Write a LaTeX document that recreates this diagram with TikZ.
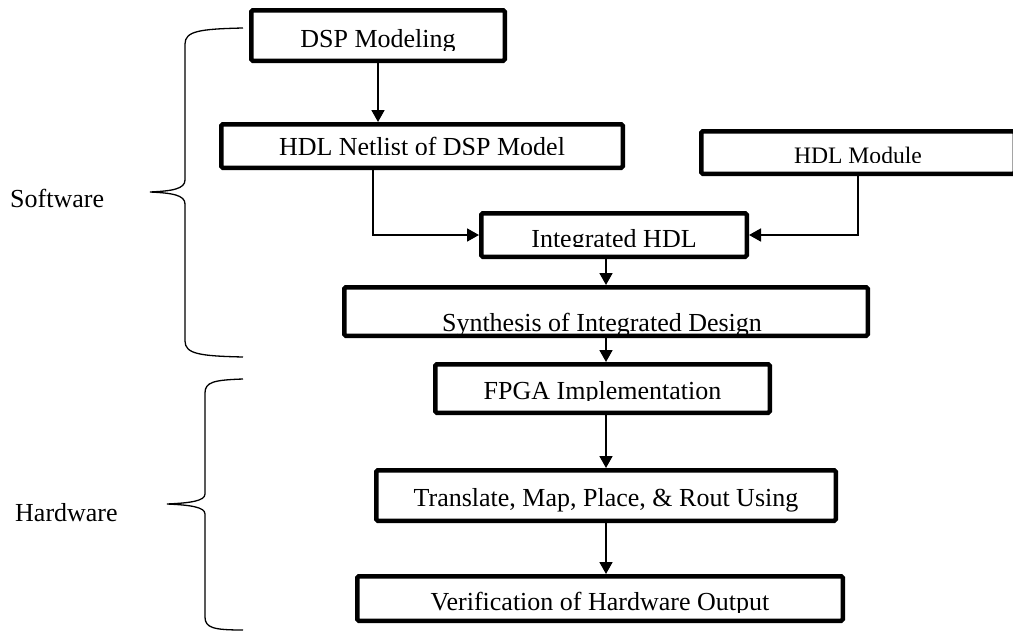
\documentclass[tikz,border=0pt]{standalone}
\usepackage{fontspec}
\setmainfont{Liberation Serif}
\usetikzlibrary{arrows.meta}

% text of a box, cut off below the given line
\newcommand{\cliplabel}[5]{%
  \begin{scope}
    \clip (#1.north west) rectangle (#1.east |- 0,#4);
    \node[lbl, anchor=base] (#1-txt) at (#2,#3) {#5};
  \end{scope}}

\begin{document}
\begin{tikzpicture}[
  x=1pt, y=-1pt,
  font=\fontsize{26}{30}\selectfont,
  blk/.style={draw, line width=4.5pt, rounded corners=1.5pt, inner sep=0pt},
  lbl/.style={inner sep=0pt},
  arr/.style={-{Triangle[length=12pt,width=13pt]}, line width=1.8pt},
  brace/.style={line width=1.3pt}
]
\useasboundingbox (0,0) rectangle (1013,632);

% software part
\node[blk, minimum width=253.5pt, minimum height=50.5pt] (dsp) at (378,35.5) {};
\node[blk, minimum width=401.5pt, minimum height=43.5pt] (net) at (422,146) {};
\node[blk, minimum width=313.5pt, minimum height=42.5pt] (mod) at (858,152.5) {};
\node[blk, minimum width=265.5pt, minimum height=43.5pt] (intg) at (614,235) {};
\node[blk, minimum width=523.5pt, minimum height=48.5pt] (syn) at (606,311.5) {};
% hardware part
\node[blk, minimum width=334.5pt, minimum height=48.5pt] (fpga) at (602.5,388.5) {};
\node[blk, minimum width=459.5pt, minimum height=50.5pt] (trans) at (606,495.5) {};
\node[blk, minimum width=485.5pt, minimum height=44.5pt] (ver) at (600,598.5) {};

\cliplabel{dsp}{378}{47}{50}{DSP Modeling}
\cliplabel{net}{422}{155.5}{154.5}{HDL Netlist of DSP Model}
\cliplabel{mod}{858}{163}{162}{\fontsize{23.6}{27}\selectfont HDL Module}
\cliplabel{intg}{614}{247}{246}{Integrated HDL}
\cliplabel{syn}{602}{331}{333}{Synthesis of Integrated Design}
\cliplabel{fpga}{602.5}{399}{400.5}{FPGA Implementation}
\cliplabel{trans}{606}{506}{523}{Translate, Map, Place, \& Rout Using}
\cliplabel{ver}{600}{610}{612}{Verification of Hardware Output}

\draw[arr] (dsp.south) -- (dsp.south |- net.north);
\draw[arr] ([xshift=-49pt]net.south) |- (intg.west);
\draw[arr] (mod.south) |- (intg.east);
\draw[arr] (intg.south -| syn.north) -- (syn.north);
\draw[arr] (syn.south) -- (syn.south |- fpga.north);
\draw[arr] (fpga.south -| trans.north) -- (trans.north);
\draw[arr] (trans.south) -- (trans.south |- ver.north);

% braces
\draw[brace] (243,28) .. controls (200,29) and (185,31) .. (185,44) -- (185,180)
  .. controls (185,189) and (172,191) .. (150,192)
  .. controls (172,193) and (185,195) .. (185,204) -- (185,341)
  .. controls (185,354) and (200,356) .. (243,357);
\draw[brace] (243,379) .. controls (214,380) and (205,382) .. (205,393) -- (205,494)
  .. controls (205,501) and (190,503) .. (167,504)
  .. controls (190,505) and (205,507) .. (205,514) -- (205,617)
  .. controls (205,628) and (214,630) .. (243,630);
\node[lbl, anchor=base west] (sw) at (10,207) {Software};
\node[lbl, anchor=base west] (hw) at (15,521) {Hardware};
\end{tikzpicture}
\end{document}
